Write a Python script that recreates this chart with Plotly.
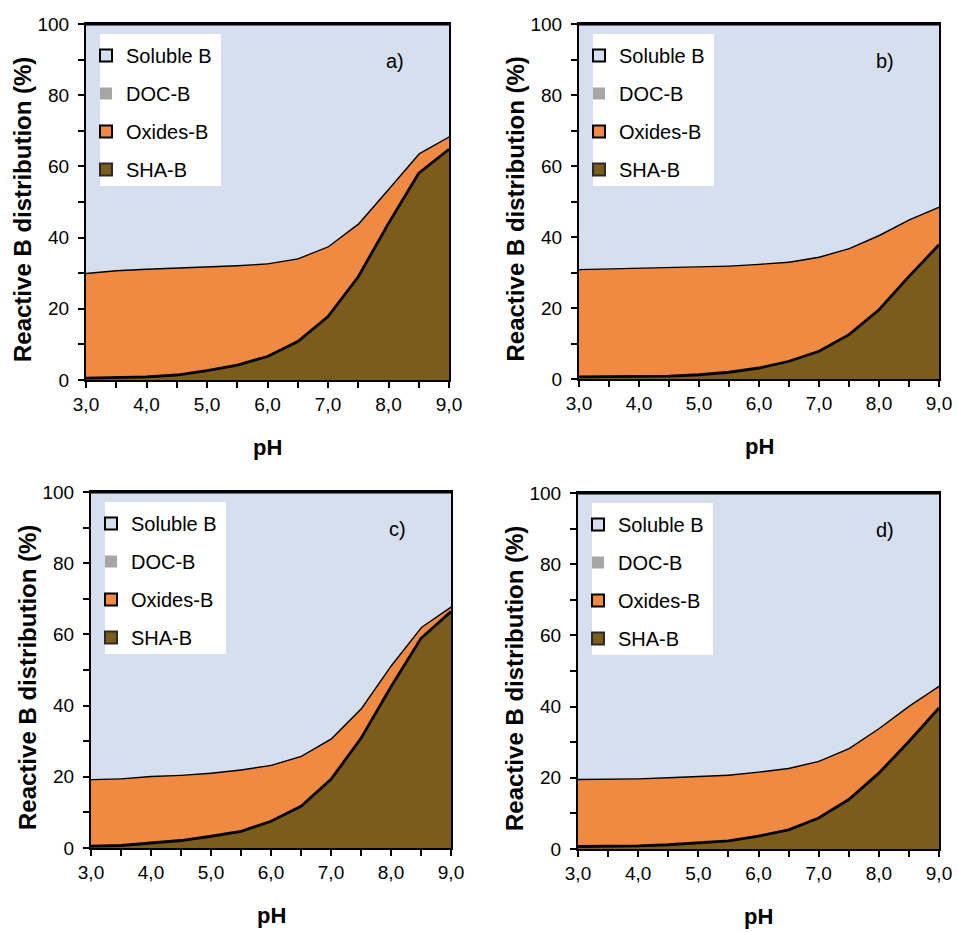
import plotly.graph_objects as go

# pH grid shared by all four panels
ph = [3.0, 3.5, 4.0, 4.5, 5.0, 5.5, 6.0, 6.5, 7.0, 7.5, 8.0, 8.5, 9.0]

# Reactive B distribution (%) per pool, panel a
sha_a = [0.5, 0.7, 0.9, 1.4, 2.6, 4.2, 6.6, 10.8, 17.8, 29.0, 44.0, 58.1, 64.8]
oxides_a = [29.6, 30.2, 30.4, 30.2, 29.4, 28.1, 26.2, 23.4, 19.8, 15.0, 9.8, 5.6, 3.7]
doc_a = [0.0] * 13
soluble_a = [69.9, 69.1, 68.7, 68.4, 68.0, 67.7, 67.2, 65.8, 62.4, 56.0, 46.2, 36.3, 31.5]

# panel b
sha_b = [0.6, 0.7, 0.8, 0.8, 1.2, 1.9, 3.1, 5.0, 7.8, 12.5, 19.5, 28.9, 37.8]
oxides_b = [30.4, 30.5, 30.6, 30.7, 30.5, 30.1, 29.4, 28.1, 26.7, 24.4, 21.1, 16.1, 10.8]
doc_b = [0.0] * 13
soluble_b = [69.0, 68.8, 68.6, 68.5, 68.3, 68.0, 67.5, 66.9, 65.5, 63.1, 59.4, 55.0, 51.4]

# panel c
sha_c = [0.5, 0.7, 1.4, 2.1, 3.3, 4.7, 7.5, 11.7, 19.3, 30.8, 45.3, 58.9, 66.4]
oxides_c = [18.9, 18.9, 18.9, 18.5, 17.9, 17.4, 15.9, 14.2, 11.5, 8.5, 6.1, 3.2, 1.5]
doc_c = [0.0] * 13
soluble_c = [80.6, 80.4, 79.7, 79.4, 78.8, 77.9, 76.6, 74.1, 69.2, 60.7, 48.6, 37.9, 32.1]

# panel d
sha_d = [0.7, 0.7, 0.9, 1.2, 1.7, 2.3, 3.6, 5.4, 8.7, 13.9, 21.3, 30.2, 39.6]
oxides_d = [19.0, 19.0, 19.0, 19.0, 18.9, 18.6, 18.2, 17.4, 16.1, 14.5, 12.7, 10.1, 6.3]
doc_d = [0.0] * 13
soluble_d = [80.3, 80.3, 80.1, 79.8, 79.4, 79.1, 78.2, 77.2, 75.2, 71.6, 66.0, 59.7, 54.1]

panel_labels = ["a)", "b)", "c)", "d)"]
series_names = ["Soluble B", "DOC-B", "Oxides-B", "SHA-B"]
x_tick_vals = [3, 4, 5, 6, 7, 8, 9]
y_tick_vals = [0, 20, 40, 60, 80, 100]

W, H = 958, 932
FONT = "Liberation Sans, Arial, sans-serif"
C_SOL, C_DOC, C_OX, C_SHA = "#D5DFEE", "#A6A6A6", "#F08A42", "#7B5C1A"


def px_x(v):
    return v / W


def px_y(v):
    return 1 - v / H


# plot-area boxes in pixels: left, right, top, bottom
boxes = [(86, 449, 24, 380), (579, 939, 24, 379), (91, 451, 492, 848), (578, 939, 493, 849)]
panels = [
    (sha_a, oxides_a, doc_a, soluble_a),
    (sha_b, oxides_b, doc_b, soluble_b),
    (sha_c, oxides_c, doc_c, soluble_c),
    (sha_d, oxides_d, doc_d, soluble_d),
]

fig = go.Figure()
layout = dict(
    template="none",
    width=W, height=H, margin=dict(l=0, r=0, t=0, b=0, autoexpand=False),
    paper_bgcolor="white", plot_bgcolor="white",
    separators=",.", font=dict(family=FONT, size=19, color="black"),
    showlegend=True, annotations=[], shapes=[],
)

for i, ((sha, ox, doc, sol), (l, r, t, b)) in enumerate(zip(panels, boxes)):
    k = "" if i == 0 else str(i + 1)
    xa, ya = "x" + k, "y" + k
    leg = "legend" + k
    grp = "s" + str(i)

    # stacked areas, bottom to top
    fig.add_trace(go.Scatter(x=ph, y=sha, stackgroup=grp, xaxis=xa, yaxis=ya,
                             mode="lines", line=dict(color="black", width=2.8),
                             fillcolor=C_SHA, showlegend=False, name="SHA-B"))
    fig.add_trace(go.Scatter(x=ph, y=ox, stackgroup=grp, xaxis=xa, yaxis=ya,
                             mode="lines", line=dict(color="black", width=2.8),
                             fillcolor=C_OX, showlegend=False, name="Oxides-B"))
    fig.add_trace(go.Scatter(x=ph, y=doc, stackgroup=grp, xaxis=xa, yaxis=ya,
                             mode="lines", line=dict(color=C_DOC, width=0),
                             fillcolor=C_DOC, showlegend=False, name="DOC-B"))
    fig.add_trace(go.Scatter(x=ph, y=sol, stackgroup=grp, xaxis=xa, yaxis=ya,
                             mode="lines", line=dict(color="black", width=2.8),
                             fillcolor=C_SOL, showlegend=False, name="Soluble B"))

    # legend entries (square swatches)
    swatches = [
        ("Soluble B", C_SOL, "black", 2.5),
        ("DOC-B", C_DOC, C_DOC, 0),
        ("Oxides-B", C_OX, "black", 2.5),
        ("SHA-B", C_SHA, "#2a2a2a", 1),
    ]
    for j, (nm, fc, lc, lw) in enumerate(swatches):
        fig.add_trace(go.Scatter(x=[None], y=[None], mode="markers", name=nm,
                                 xaxis=xa, yaxis=ya, legend=leg,
                                 legendgroup=f"{i}-{j}",
                                 marker=dict(symbol="square", size=12, color=fc,
                                             line=dict(color=lc, width=lw))))

    dom_x = [px_x(l), px_x(r)]
    dom_y = [px_y(b), px_y(t)]
    axis_common = dict(showline=True, linecolor="black", linewidth=2, mirror=True,
                       ticks="outside", ticklen=6, tickwidth=1.5, tickcolor="black",
                       showgrid=False, zeroline=False, automargin=False,
                       tickfont=dict(size=19, family=FONT, color="black"))
    layout["xaxis" + k] = dict(axis_common, domain=dom_x, anchor=ya, range=[3, 9],
                               tickvals=x_tick_vals, tickformat=".1f",
                               minor=dict(dtick=0.5, ticks="outside", ticklen=6,
                                          tickwidth=1.5, tickcolor="black", showgrid=False))
    layout["yaxis" + k] = dict(axis_common, domain=dom_y, anchor=xa, range=[0, 100],
                               tickvals=y_tick_vals, ticklabelstandoff=5,
                               minor=dict(dtick=10, ticks="outside", ticklen=6,
                                          tickwidth=1.5, tickcolor="black", showgrid=False))

    # white legend panel
    layout["shapes"].append(dict(type="rect", xref="paper", yref="paper", layer="above",
                                 x0=px_x(l + 14), x1=px_x(l + 135),
                                 y0=px_y(t + 162), y1=px_y(t + 10),
                                 fillcolor="white", line=dict(width=0)))
    layout[leg] = dict(x=px_x(l + 0), y=px_y(t + 12), xanchor="left", yanchor="top",
                       bgcolor="rgba(0,0,0,0)", borderwidth=0, tracegroupgap=9,
                       font=dict(size=20, family=FONT, color="black"),
                       itemsizing="constant")

    # panel tag
    layout["annotations"].append(dict(text=panel_labels[i], xref="paper", yref="paper",
                                      x=px_x(r - 54), y=px_y(t + 37), showarrow=False,
                                      xanchor="center", yanchor="middle",
                                      font=dict(size=20, family=FONT)))
    # axis titles
    layout["annotations"].append(dict(text="pH", xref="paper", yref="paper",
                                      x=px_x((l + r) / 2), y=px_y(b + 67), showarrow=False,
                                      xanchor="center", yanchor="middle",
                                      font=dict(size=22, family=FONT, weight="bold")))
    layout["annotations"].append(dict(text="Reactive B distribution (%)", xref="paper",
                                      yref="paper", textangle=-90,
                                      x=px_x(l - 64), y=px_y((t + b) / 2 + 8),
                                      xanchor="center", yanchor="middle",
                                      showarrow=False,
                                      font=dict(size=24, family=FONT, weight="bold")))

fig.update_layout(**layout)
fig.write_html("out.html")
